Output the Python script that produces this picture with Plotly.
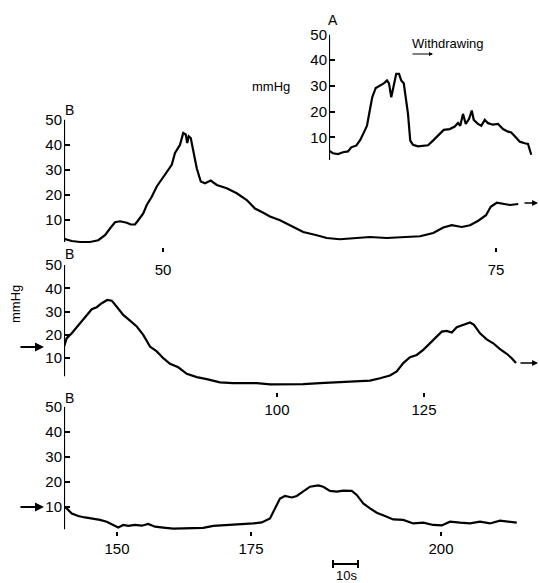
import plotly.graph_objects as go

W, H = 539, 583
PX_PER_S = 2.5  # chart-recorder speed (10 s = 25 px)

# ---------------- data (time in s from panel start, pressure in mmHg) -------------
a_t = [0, 1.6, 3.6, 5.6, 7.6, 8.9, 10.9, 12.5, 14.3, 15.2, 16.3, 17.3, 18.7, 20.3, 21.9,
       23.2, 24.0, 24.9, 25.9, 26.9, 28.0, 28.9, 29.9, 30.7, 31.6, 32.5, 33.6, 35.6, 37.6,
       39.6, 41.6, 42.9, 44.9, 45.9, 48.3, 50.3, 51.6, 52.5, 53.6, 54.7, 56.0, 57.1, 57.9,
       59.6, 60.9, 62.3, 63.6, 65.6, 67.6, 69.6, 71.6, 72.9, 74.7, 76.3, 78.3, 79.6, 80.9]
a_p = [4.8, 3.8, 3.5, 4.2, 4.5, 6.1, 6.8, 9.0, 12.6, 14.5, 20.4, 25.6, 29.2, 30.1, 31.0,
       32.1, 31.0, 25.6, 30.8, 34.7, 34.7, 32.1, 31.0, 24.3, 19.1, 8.7, 7.1, 6.5, 6.8,
       6.9, 8.7, 10.0, 11.9, 12.9, 13.2, 14.2, 15.6, 14.5, 19.1, 15.2, 17.1, 20.4, 16.8,
       15.2, 14.5, 16.8, 15.5, 14.9, 15.2, 13.2, 12.2, 11.9, 10.0, 8.3, 7.7, 7.4, 3.2]

b1_t = [0, 3.1, 6.4, 10.4, 13.7, 16.4, 18.4, 20.4, 22.4, 25.1, 26.7, 28.4, 29.7, 31.7, 33.1,
        35.1, 37.1, 39.1, 41.1, 43.1, 44.4, 46.4, 47.7, 48.7, 49.3, 49.9, 50.7, 51.7, 53.1,
        54.7, 56.4, 58.7, 61.1, 65.1, 69.1, 73.1, 76.4, 79.7, 82.4, 86.4, 91.7, 95.7, 101.1,
        105.1, 110.4, 115.7, 122.4, 129.1, 135.7, 142.4, 147.7, 151.7, 155.1, 159.1, 162.4,
        165.7, 168.8, 170.7, 173.1, 175.7, 178.4, 181.7]
b1_p = [2.3, 1.4, 1.0, 1.0, 1.7, 3.7, 6.4, 8.9, 9.3, 8.7, 8.0, 8.0, 9.7, 12.4, 15.8,
        19.1, 23.2, 26.1, 28.5, 31.9, 36.6, 39.9, 44.6, 44.0, 40.6, 43.3, 42.6, 37.2, 30.5,
        25.2, 24.5, 25.6, 23.8, 22.5, 20.5, 17.8, 14.4, 12.7, 11.2, 9.7, 7.0, 5.0, 3.7,
        2.6, 2.1, 2.6, 3.0, 2.6, 2.8, 3.3, 4.6, 6.8, 7.7, 7.0, 7.7,
        9.5, 11.7, 15.1, 16.7, 16.4, 15.8, 16.2]

b2_t = [0, 1.1, 3.1, 5.3, 7.5, 9.3, 11.1, 13.1, 15.1, 17.3, 19.1, 21.1, 23.7, 26.4, 29.1,
        31.7, 34.4, 37.1, 39.7, 42.4, 45.7, 49.1, 53.1, 57.1, 62.4, 67.7, 73.1, 77.1, 82.4,
        89.1, 95.7, 102.4, 109.1, 115.7, 122.4, 126.4, 130.4, 133.1, 135.7, 138.4, 141.1,
        143.7, 146.4, 149.1, 151.1, 153.1, 155.1, 157.1, 159.7, 162.4, 164.0, 166.4, 169.1,
        171.7, 174.4, 177.1, 179.1, 180.8]
b2_p = [15.0, 18.6, 20.7, 23.6, 26.4, 29.0, 31.0, 31.9, 33.6, 35.0, 34.7, 32.1, 28.6, 26.1, 23.6,
        20.0, 15.0, 12.9, 10.0, 7.6, 6.1, 3.3, 1.9, 1.0, -0.4, -0.7, -0.7, -0.7, -1.2,
        -1.2, -1.1, -0.7, -0.3, 0.0, 0.4, 1.4, 2.6, 4.3, 7.9, 10.4, 11.4,
        13.6, 16.4, 19.6, 21.4, 21.7, 21.0, 23.3, 24.3, 25.3, 24.3, 20.7, 18.1,
        16.4, 13.9, 11.9, 10.0, 7.9]

b3_t = [0, 1.1, 3.1, 5.7, 8.4, 11.1, 14.4, 17.1, 19.7, 21.7, 23.7, 25.7, 28.4, 31.1, 33.7,
        36.4, 39.7, 43.7, 47.7, 51.7, 55.7, 59.7, 63.7, 67.7, 71.7, 75.7, 79.1, 81.1, 82.4,
        84.4, 86.4, 88.4, 91.1, 93.1, 95.7, 98.4, 101.7, 103.7, 106.4, 109.1, 111.7, 115.1,
        117.1, 119.7, 122.4, 125.1, 128.4, 131.7, 135.7, 139.7, 143.7, 147.7, 151.1, 154.4,
        158.4, 162.4, 166.4, 170.4, 174.4, 177.7, 181.1]
b3_p = [10.0, 9.3, 7.3, 6.3, 5.7, 5.3, 4.7, 4.0, 2.7, 1.7, 2.7, 2.3, 2.7, 2.4, 3.1,
        2.0, 1.6, 1.2, 1.3, 1.5, 1.5, 2.3, 2.5, 2.8, 3.1, 3.3, 3.7, 4.7, 5.3,
        9.3, 13.3, 14.3, 13.7, 14.3, 16.3, 18.0, 18.5, 18.0, 16.3, 16.0, 16.4, 16.3,
        14.7, 11.3, 9.3, 7.6, 6.3, 4.9, 4.7, 3.3, 3.6, 2.7, 2.5, 4.0,
        3.6, 3.3, 4.0, 3.3, 4.4, 3.9, 3.6]

y_tickvals = [10, 20, 30, 40, 50]
y_ticktext = ["10", "20", "30", "40", "50"]

# position markers (withdrawal distance labels) at recorder times
b1_mark_t = [39.6, 172.8]
b1_mark_lbl = ["50", "75"]
b2_mark_t = [85.2, 144.0]
b2_mark_lbl = ["100", "125"]
b3_mark_t = [21.2, 74.8, 150.8]
b3_mark_lbl = ["150", "175", "200"]

SCALE_BAR_S = 10
SCALE_BAR_START = 107.6

# ---------------- layout helpers ----------------
FONT = "Liberation Sans"
def fx(x):
    return x / W
def fy(y):
    return 1 - y / H

fig = go.Figure()

# (left px, right px, pixel of 50 mmHg, px per mmHg, range min, axis-line bottom value)
panels = {
    1: dict(left=329, right=535, py50=34.5, ppu=2.57, pmin=1.0, axis_lo=1.2),   # A
    2: dict(left=64, right=535, py50=119.5, ppu=2.5, pmin=0.0, axis_lo=1.0),    # B1
    3: dict(left=64, right=535, py50=265.0, ppu=2.33, pmin=-2.5, axis_lo=2.2),  # B2
    4: dict(left=64, right=535, py50=406.7, ppu=2.5, pmin=0.0, axis_lo=1.0),    # B3
}
series = {1: (a_t, a_p), 2: (b1_t, b1_p), 3: (b2_t, b2_p), 4: (b3_t, b3_p)}
# (tick values, labels, axis pixel row, label standoff)
marks = {2: (b1_mark_t, b1_mark_lbl, 247, 5), 3: (b2_mark_t, b2_mark_lbl, 392, 0),
         4: (b3_mark_t, b3_mark_lbl, 531, 0)}

shapes = []
for i, pp in panels.items():
    sfx = "" if i == 1 else str(i)
    t, p = series[i]
    fig.add_trace(go.Scatter(x=t, y=p, mode="lines", xaxis="x" + sfx, yaxis="y" + sfx,
                             line=dict(color="black", width=2.2), showlegend=False,
                             hoverinfo="skip"))
    ybot_px = pp["py50"] + (50 - pp["pmin"]) * pp["ppu"]
    xr = (pp["right"] - pp["left"]) / PX_PER_S
    xa = dict(domain=[fx(pp["left"]), fx(pp["right"])], range=[0, xr],
              showgrid=False, zeroline=False, showline=False)
    if i in marks:
        mt, ml, mpos, so = marks[i]
        xa.update(anchor="free", position=fy(mpos), tickmode="array", tickvals=mt,
                  ticktext=ml, ticks="outside", ticklen=4, tickwidth=1.5,
                  tickcolor="black", ticklabelstandoff=so,
                  tickfont=dict(family=FONT, size=15, color="black"))
    else:
        xa.update(visible=False, anchor="y" + sfx)
    ya = dict(domain=[fy(ybot_px), fy(pp["py50"])], range=[pp["pmin"], 50],
              anchor="x" + sfx, showgrid=False, zeroline=False, showline=False,
              tickmode="array", tickvals=y_tickvals, ticktext=y_ticktext,
              ticks="inside", ticklen=6, tickwidth=2, tickcolor="black",
              ticklabelstandoff=1,
              tickfont=dict(family=FONT, size=15, color="black"))
    fig.update_layout(**{"xaxis" + sfx: xa, "yaxis" + sfx: ya})
    shapes.append(dict(type="line", xref="x" + sfx, yref="y" + sfx, x0=0, x1=0,
                       y0=pp["axis_lo"], y1=50, line=dict(color="black", width=2.2)))

# 10 s scale bar on the bottom panel's time axis
bar_y = fy(564)
shapes.append(dict(type="line", xref="x4", yref="paper", x0=SCALE_BAR_START,
                   x1=SCALE_BAR_START + SCALE_BAR_S, y0=bar_y, y1=bar_y,
                   line=dict(color="black", width=2)))
for xe in (SCALE_BAR_START, SCALE_BAR_START + SCALE_BAR_S):
    shapes.append(dict(type="line", xref="x4", yref="paper", x0=xe, x1=xe,
                       y0=fy(560), y1=fy(568), line=dict(color="black", width=2)))

ann = []
def text(x, y, s, size=14, angle=0):
    ann.append(dict(x=fx(x), y=fy(y), xref="paper", yref="paper", text=s,
                    showarrow=False, textangle=angle, xanchor="center",
                    yanchor="middle",
                    font=dict(family=FONT, size=size, color="black")))
def arrow(x_tip, y, length, width=1.5, head=2, size=1.0):
    ann.append(dict(x=fx(x_tip), y=fy(y), xref="paper", yref="paper", text="",
                    showarrow=True, ax=-length, ay=0, axref="pixel", ayref="pixel",
                    arrowhead=head, arrowsize=size, arrowwidth=width,
                    arrowcolor="black"))

text(333, 20, "A", 14)
text(69, 110, "B", 14)
text(69, 254, "B", 14)
text(69, 398, "B", 14)
text(271, 86, "mmHg", 13)
text(15, 304, "mmHg", 13, angle=-90)
text(448, 44, "Withdrawing", 13)
text(346, 575, "10s", 13)
arrow(433, 54, 22, width=1, head=2, size=0.8)
arrow(44, 347, 25, width=2, head=2, size=0.9)
arrow(44, 507, 25, width=2, head=2, size=0.9)
arrow(538, 203, 15, width=1.3, head=2, size=0.9)
arrow(538, 363, 19, width=1.3, head=2, size=0.9)

fig.update_layout(width=W, height=H,
                  margin=dict(l=0, r=0, t=0, b=0, pad=0, autoexpand=False),
                  plot_bgcolor="rgba(0,0,0,0)", paper_bgcolor="white",
                  shapes=shapes, annotations=ann, showlegend=False)

fig.write_html("out.html")
